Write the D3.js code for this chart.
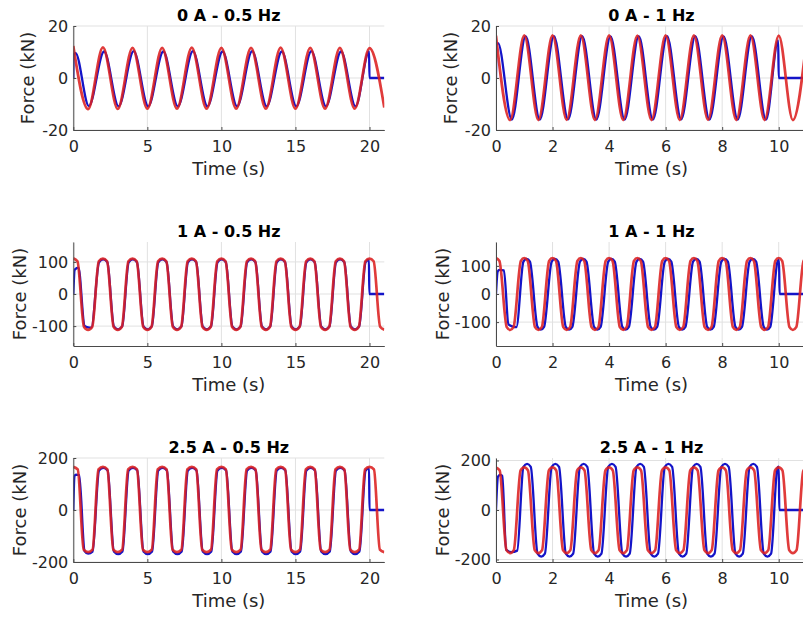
<!DOCTYPE html>
<html><head><meta charset="utf-8">
<script src="https://cdn.jsdelivr.net/npm/d3@7"></script>
<style>html,body{margin:0;padding:0;background:#fff;overflow:hidden}</style>
</head><body><svg id="c" width="803" height="617"></svg>
<script>
// ---------- DATA (key points: time s, force kN) ----------
const titles = ["0 A - 0.5 Hz","0 A - 1 Hz","1 A - 0.5 Hz","1 A - 1 Hz","2.5 A - 0.5 Hz","2.5 A - 1 Hz"];
const xMax = [21, 11, 21, 11, 21, 11];
const yMax = [20, 20, 162, 185, 200, 210];
const xTicksSlow = [0, 5, 10, 15, 20];
const xTicksFast = [0, 2, 4, 6, 8, 10];
const yTicks0 = [-20, 0, 20];
const yTicks1 = [-100, 0, 100];
const yTicks2 = [-200, 0, 200];

// Panel 1: 0 A - 0.5 Hz
const p1RedT = [0,1,2,3,4,5,6,7,8,9,10,11,12,13,14,15,16,17,18,19,20,21];
const p1RedF = [12.3,-12.0,11.8,-11.9,11.6,-11.8,11.6,-11.8,11.7,-11.8,11.6,-11.8,11.6,-11.8,11.7,-11.8,11.6,-11.8,11.6,-11.8,11.5,-11.4];
const p1BlueT = [0,0.03,0.15,1.05,2.08,3.06,4.08,5.06,6.08,7.06,8.08,9.06,10.08,11.06,12.08,13.06,14.08,15.06,16.08,17.06,18.08,19.06,19.97,20.0,21];
const p1BlueF = [0,9.0,9.6,-10.8,10.2,-10.9,10.3,-10.9,10.2,-10.9,10.3,-10.9,10.2,-10.9,10.3,-10.9,10.2,-10.9,10.3,-10.9,10.2,-10.9,10.2,0,0];

// Panel 2: 0 A - 1 Hz
const p2RedT = [0,0.5,1,1.5,2,2.5,3,3.5,4,4.5,5,5.5,6,6.5,7,7.5,8,8.5,9,9.5,10,10.5,11];
const p2RedF = [16.3,-16.2,16.4,-16.2,16.4,-16.1,16.4,-16.2,16.4,-16.2,16.3,-16.2,16.4,-16.2,16.4,-16.1,16.4,-16.2,16.4,-16.2,16.3,-16.2,16.2];
const p2BlueT = [0,0.02,0.07,0.56,1.05,1.55,2.05,2.55,3.05,3.55,4.05,4.55,5.05,5.55,6.05,6.55,7.05,7.55,8.05,8.55,9.05,9.55,9.98,10.0,11];
const p2BlueF = [0,12.5,13.4,-16.0,16.1,-16.0,16.1,-15.9,16.1,-16.0,16.0,-16.0,16.1,-16.0,16.1,-15.9,16.1,-16.0,16.0,-16.0,16.1,-16.0,14.4,0,0];

// Panel 3: 1 A - 0.5 Hz
const p3RedT = [0,0.28,
  0.72,1,1.28, 1.72,2,2.28, 2.72,3,3.28, 3.72,4,4.28, 4.72,5,5.28, 5.72,6,6.28, 6.72,7,7.28, 7.72,8,8.28, 8.72,9,9.28, 9.72,10,10.28,
  10.72,11,11.28, 11.72,12,12.28, 12.72,13,13.28, 13.72,14,14.28, 14.72,15,15.28, 15.72,16,16.28, 16.72,17,17.28, 17.72,18,18.28, 18.72,19,19.28, 19.72,20,20.28,
  20.72,21];
const p3RedF = [111,102,
  -102,-112,-102, 102,110,102, -102,-112,-102, 102,110,102, -102,-112,-102, 102,110,102, -102,-112,-102, 102,110,102, -102,-112,-102, 102,110,102,
  -102,-112,-102, 102,110,102, -102,-112,-102, 102,110,102, -102,-112,-102, 102,110,102, -102,-112,-102, 102,110,102, -102,-112,-102, 102,110,102,
  -102,-111];
const p3BlueT = [0,0.1,0.35, 0.76,1.0,1.22,
  1.74,2.02,2.3, 2.74,3.02,3.3, 3.74,4.02,4.3, 4.74,5.02,5.3, 5.74,6.02,6.3, 6.74,7.02,7.3, 7.74,8.02,8.3, 8.74,9.02,9.3, 9.74,10.02,10.3,
  10.74,11.02,11.3, 11.74,12.02,12.3, 12.74,13.02,13.3, 13.74,14.02,14.3, 14.74,15.02,15.3, 15.74,16.02,16.3, 16.74,17.02,17.3, 17.74,18.02,18.3, 18.74,19.02,19.3,
  19.74,19.96,19.99,21];
const p3BlueF = [0,76,82, -99,-104,-105,
  99,108,99, -101,-110,-101, 99,108,99, -101,-110,-101, 99,108,99, -101,-110,-101, 99,108,99, -101,-110,-101, 99,108,99,
  -101,-110,-101, 99,108,99, -101,-110,-101, 99,108,99, -101,-110,-101, 99,108,99, -101,-110,-101, 99,108,99, -101,-110,-101,
  99,107,0,0];

// Panel 4: 1 A - 1 Hz
const p4RedT = [0,0.12,
  0.38,0.5,0.62, 0.88,1,1.12, 1.38,1.5,1.62, 1.88,2,2.12, 2.38,2.5,2.62, 2.88,3,3.12, 3.38,3.5,3.62, 3.88,4,4.12, 4.38,4.5,4.62, 4.88,5,5.12,
  5.38,5.5,5.62, 5.88,6,6.12, 6.38,6.5,6.62, 6.88,7,7.12, 7.38,7.5,7.62, 7.88,8,8.12, 8.38,8.5,8.62, 8.88,9,9.12, 9.38,9.5,9.62, 9.88,10,10.12,
  10.38,10.5,10.62, 10.88,11];
const p4RedF = [128,118,
  -118,-128,-118, 118,128,118, -118,-128,-118, 118,128,118, -118,-128,-118, 118,128,118, -118,-128,-118, 118,128,118, -118,-128,-118, 118,128,118,
  -118,-128,-118, 118,128,118, -118,-128,-118, 118,128,118, -118,-128,-118, 118,128,118, -118,-128,-118, 118,128,118, -118,-128,-118, 118,128,118,
  -118,-128,-118, 118,128];
const p4BlueT = [0,0.06,0.12,0.28,0.44,0.58,0.72,
  0.97,1.085,1.2, 1.47,1.585,1.7, 1.97,2.085,2.2, 2.47,2.585,2.7, 2.97,3.085,3.2, 3.47,3.585,3.7, 3.97,4.085,4.2, 4.47,4.585,4.7, 4.97,5.085,5.2,
  5.47,5.585,5.7, 5.97,6.085,6.2, 6.47,6.585,6.7, 6.97,7.085,7.2, 7.47,7.585,7.7, 7.97,8.085,8.2, 8.47,8.585,8.7, 8.97,9.085,9.2, 9.47,9.585,9.7,
  9.96,10.01,10.03,11];
const p4BlueF = [0,80,86,84,-108,-115,-118,
  115,125,115, -117,-127,-117, 115,125,115, -117,-127,-117, 115,125,115, -117,-127,-117, 115,125,115, -117,-127,-117, 115,125,115,
  -117,-127,-117, 115,125,115, -117,-127,-117, 115,125,115, -117,-127,-117, 115,125,115, -117,-127,-117, 115,125,115, -117,-127,-117,
  116,121,0,0];

// Panel 5: 2.5 A - 0.5 Hz
const p5RedT = [0,0.3,
  0.7,1,1.3, 1.7,2,2.3, 2.7,3,3.3, 3.7,4,4.3, 4.7,5,5.3, 5.7,6,6.3, 6.7,7,7.3, 7.7,8,8.3, 8.7,9,9.3, 9.7,10,10.3,
  10.7,11,11.3, 11.7,12,12.3, 12.7,13,13.3, 13.7,14,14.3, 14.7,15,15.3, 15.7,16,16.3, 16.7,17,17.3, 17.7,18,18.3, 18.7,19,19.3, 19.7,20,20.3,
  20.7,21];
const p5RedF = [166,156,
  -152,-162,-152, 156,166,156, -152,-162,-152, 156,166,156, -152,-162,-152, 156,166,156, -152,-162,-152, 156,166,156, -152,-162,-152, 156,166,156,
  -152,-162,-152, 156,166,156, -152,-162,-152, 156,166,156, -152,-162,-152, 156,166,156, -152,-162,-152, 156,166,156, -152,-162,-152, 156,166,156,
  -152,-162];
const p5BlueT = [0,0.08,0.18,0.4, 0.76,1.0,1.3,
  1.74,2.03,2.32, 2.74,3.03,3.32, 3.74,4.03,4.32, 4.74,5.03,5.32, 5.74,6.03,6.32, 6.74,7.03,7.32, 7.74,8.03,8.32, 8.74,9.03,9.32, 9.74,10.03,10.32,
  10.74,11.03,11.32, 11.74,12.03,12.32, 12.74,13.03,13.32, 13.74,14.03,14.32, 14.74,15.03,15.32, 15.74,16.03,16.32, 16.74,17.03,17.32, 17.74,18.03,18.32, 18.74,19.03,19.32,
  19.74,19.97,20.0,21];
const p5BlueF = [0,130,136,134, -158,-168,-160,
  152,162,152, -160,-170,-160, 152,162,152, -160,-170,-160, 152,162,152, -160,-170,-160, 152,162,152, -160,-170,-160, 152,162,152,
  -160,-170,-160, 152,162,152, -160,-170,-160, 152,162,152, -160,-170,-160, 152,162,152, -160,-170,-160, 152,162,152, -160,-170,-160,
  152,161,0,0];

// Panel 6: 2.5 A - 1 Hz
const p6RedT = [0,0.13,
  0.37,0.5,0.63, 0.87,1,1.13, 1.37,1.5,1.63, 1.87,2,2.13, 2.37,2.5,2.63, 2.87,3,3.13, 3.37,3.5,3.63, 3.87,4,4.13, 4.37,4.5,4.63, 4.87,5,5.13,
  5.37,5.5,5.63, 5.87,6,6.13, 6.37,6.5,6.63, 6.87,7,7.13, 7.37,7.5,7.63, 7.87,8,8.13, 8.37,8.5,8.63, 8.87,9,9.13, 9.37,9.5,9.63, 9.87,10,10.13,
  10.37,10.5,10.63, 10.87,11];
const p6RedF = [172,160,
  -162,-174,-162, 160,172,160, -162,-174,-162, 160,172,160, -162,-174,-162, 160,172,160, -162,-174,-162, 160,172,160, -162,-174,-162, 160,172,160,
  -162,-174,-162, 160,172,160, -162,-174,-162, 160,172,160, -162,-174,-162, 160,172,160, -162,-174,-162, 160,172,160, -162,-174,-162, 160,172,160,
  -162,-174,-162, 158,170];
const p6BlueT = [0,0.07,0.15,0.22,0.36,0.55,0.75,
  0.97,1.1,1.23, 1.47,1.6,1.73, 1.97,2.1,2.23, 2.47,2.6,2.73, 2.97,3.1,3.23, 3.47,3.6,3.73, 3.97,4.1,4.23, 4.47,4.6,4.73, 4.97,5.1,5.23,
  5.47,5.6,5.73, 5.97,6.1,6.23, 6.47,6.6,6.73, 6.97,7.1,7.23, 7.47,7.6,7.73, 7.97,8.1,8.23, 8.47,8.6,8.73, 8.97,9.1,9.23, 9.47,9.6,9.73,
  9.95,10.0,10.02,11];
const p6BlueF = [0,135,142,138,-160,-170,-164,
  174,186,174, -176,-188,-176, 174,186,174, -176,-188,-176, 174,186,174, -176,-188,-176, 174,186,174, -176,-188,-176, 174,186,174,
  -176,-188,-176, 174,186,174, -176,-188,-176, 174,186,174, -176,-188,-176, 174,186,174, -176,-188,-176, 174,186,174, -176,-188,-176,
  168,175,0,0];

// ---------- build panel table ----------
const zip = (t, f) => t.map((v, i) => [v, f[i]]).filter(d => d[1] !== undefined);
const panels = [
  {red: zip(p1RedT,p1RedF), blue: zip(p1BlueT,p1BlueF), xt: xTicksSlow, yt: yTicks0},
  {red: zip(p2RedT,p2RedF), blue: zip(p2BlueT,p2BlueF), xt: xTicksFast, yt: yTicks0},
  {red: zip(p3RedT,p3RedF), blue: zip(p3BlueT,p3BlueF), xt: xTicksSlow, yt: yTicks1},
  {red: zip(p4RedT,p4RedF), blue: zip(p4BlueT,p4BlueF), xt: xTicksFast, yt: yTicks1},
  {red: zip(p5RedT,p5RedF), blue: zip(p5BlueT,p5BlueF), xt: xTicksSlow, yt: yTicks2},
  {red: zip(p6RedT,p6RedF), blue: zip(p6BlueT,p6BlueF), xt: xTicksFast, yt: yTicks2}
];

// ---------- layout ----------
const colX = [73.3, 496], rowY = [26, 242, 458], PW = 311, PH = 104;
const yLabelGap = [39, 47, 47];
const FONT = "'DejaVu Sans', sans-serif";
const svg = d3.select("#c");
svg.append("rect").attr("width", 803).attr("height", 617).attr("fill", "#fff");

panels.forEach((p, i) => {
  const col = i % 2, row = Math.floor(i / 2);
  const x0 = colX[col], y0 = rowY[row];
  const x = d3.scaleLinear().domain([0, xMax[i]]).range([x0, x0 + PW]);
  const y = d3.scaleLinear().domain([-yMax[i], yMax[i]]).range([y0 + PH, y0]);
  const g = svg.append("g");

  // grid
  g.selectAll(".gx").data(p.xt).join("line")
    .attr("x1", d => x(d)).attr("x2", d => x(d)).attr("y1", y0).attr("y2", y0 + PH)
    .attr("stroke", "#e1e1e1").attr("stroke-width", 1);
  g.selectAll(".gy").data(p.yt).join("line")
    .attr("x1", x0).attr("x2", x0 + PW).attr("y1", d => y(d)).attr("y2", d => y(d))
    .attr("stroke", "#e1e1e1").attr("stroke-width", 1);

  // lines
  const cid = "clip" + i;
  svg.append("clipPath").attr("id", cid).append("rect")
    .attr("x", x0).attr("y", y0 - 2).attr("width", PW).attr("height", PH + 4);
  const line = d3.line().x(d => x(d[0])).y(d => y(d[1])).curve(d3.curveMonotoneX);
  const lg = g.append("g").attr("clip-path", `url(#${cid})`);
  lg.append("path").attr("d", line(p.blue)).attr("fill", "none")
    .attr("stroke", "#1414c8").attr("stroke-width", 2.3).attr("stroke-linejoin", "round");
  lg.append("path").attr("d", line(p.red)).attr("fill", "none")
    .attr("stroke", "#dc2020").attr("stroke-opacity", 0.88).attr("stroke-width", 2.7).attr("stroke-linejoin", "round");

  // axes
  const ax = g.append("g").attr("transform", `translate(0,${y0 + PH})`)
    .call(d3.axisBottom(x).tickValues(p.xt).tickSize(-3).tickSizeOuter(0).tickPadding(10.6).tickFormat(d3.format("d")));
  const ay = g.append("g").attr("transform", `translate(${x0},0)`)
    .call(d3.axisLeft(y).tickValues(p.yt).tickSize(-3).tickSizeOuter(0).tickPadding(5).tickFormat(d => d < 0 ? "-" + Math.abs(d) : String(d)));
  [ax, ay].forEach(a => {
    a.select(".domain").attr("stroke", "#4a4a4a").attr("stroke-width", 1);
    a.selectAll(".tick line").attr("stroke", "#4a4a4a");
    a.selectAll(".tick text").attr("fill", "#262626").attr("font-family", FONT).attr("font-size", 16);
  });

  // texts
  g.append("text").attr("x", x0 + PW / 2).attr("y", y0 - 5).attr("text-anchor", "middle")
    .attr("font-family", FONT).attr("font-weight", "bold").attr("font-size", 16).attr("fill", "#000")
    .text(titles[i]);
  g.append("text").attr("x", x0 + PW / 2).attr("y", y0 + PH + 45).attr("text-anchor", "middle")
    .attr("font-family", FONT).attr("font-size", 18).attr("fill", "#262626").text("Time (s)");
  g.append("text").attr("transform", `translate(${x0 - yLabelGap[row]},${y0 + PH / 2}) rotate(-90)`)
    .attr("text-anchor", "middle").attr("font-family", FONT).attr("font-size", 18).attr("fill", "#262626")
    .text("Force (kN)");
});
</script></body></html>
